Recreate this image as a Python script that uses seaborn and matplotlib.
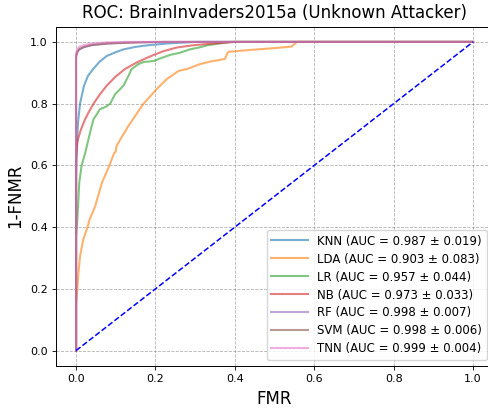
import numpy as np
import pandas as pd
import seaborn as sns
import matplotlib
matplotlib.use('Agg')
import matplotlib.pyplot as plt

# ROC points (FMR, 1-FNMR) per classifier
models = ['KNN', 'LDA', 'LR', 'NB', 'RF', 'SVM', 'TNN']
auc_mean = [0.987, 0.903, 0.957, 0.973, 0.998, 0.998, 0.999]
auc_std = [0.019, 0.083, 0.044, 0.033, 0.007, 0.006, 0.004]

knn_fmr = [0, 0, 0.002, 0.005, 0.01, 0.02, 0.03, 0.043, 0.06, 0.078, 0.1, 0.12, 0.15, 0.18, 0.23, 0.3, 1.0]
knn_tpr = [0, 0.55, 0.66, 0.74, 0.80, 0.858, 0.89, 0.912, 0.937, 0.955, 0.967, 0.976, 0.984, 0.989, 0.995, 1.0, 1.0]

lda_fmr = [0, 0, 0.003, 0.006, 0.01, 0.018, 0.029, 0.034, 0.048, 0.065, 0.084, 0.096, 0.1, 0.102, 0.111,
           0.132, 0.17, 0.203, 0.228, 0.258, 0.279, 0.312, 0.34, 0.363, 0.375, 0.38, 0.384, 0.438, 0.5,
           0.543, 0.556, 1.0]
lda_tpr = [0, 0.15, 0.197, 0.251, 0.305, 0.359, 0.40, 0.424, 0.467, 0.543, 0.60, 0.64, 0.645, 0.663, 0.683,
           0.728, 0.80, 0.847, 0.879, 0.906, 0.912, 0.928, 0.937, 0.942, 0.945, 0.96, 0.968, 0.974, 0.98,
           0.985, 1.0, 1.0]

lr_fmr = [0, 0, 0.003, 0.005, 0.008, 0.014, 0.023, 0.031, 0.037, 0.044, 0.052, 0.06, 0.075, 0.086, 0.098,
          0.111, 0.12, 0.132, 0.14, 0.157, 0.17, 0.195, 0.215, 0.237, 0.262, 0.287, 0.31, 0.33, 0.36, 0.39, 1.0]
lr_tpr = [0, 0.37, 0.42, 0.467, 0.543, 0.60, 0.64, 0.683, 0.715, 0.75, 0.765, 0.782, 0.79, 0.80, 0.83,
          0.847, 0.86, 0.89, 0.912, 0.928, 0.935, 0.938, 0.948, 0.958, 0.965, 0.976, 0.982, 0.989, 0.995, 1.0, 1.0]

nb_fmr = [0, 0, 0.003, 0.006, 0.012, 0.023, 0.033, 0.044, 0.06, 0.077, 0.1, 0.123, 0.155, 0.19, 0.22, 0.254, 0.3, 0.4, 1.0]
nb_tpr = [0, 0.62, 0.672, 0.69, 0.715, 0.75, 0.775, 0.80, 0.83, 0.858, 0.888, 0.912, 0.935, 0.955, 0.97, 0.982, 0.99, 1.0, 1.0]

rf_fmr = [0, 0, 0.003, 0.008, 0.02, 0.04, 0.08, 0.12, 0.2, 1.0]
rf_tpr = [0, 0.95, 0.965, 0.975, 0.983, 0.99, 0.995, 0.998, 1.0, 1.0]

svm_fmr = [0, 0, 0.003, 0.008, 0.02, 0.04, 0.08, 0.15, 0.22, 1.0]
svm_tpr = [0, 0.955, 0.968, 0.977, 0.984, 0.99, 0.995, 0.998, 1.0, 1.0]

tnn_fmr = [0, 0, 0.003, 0.008, 0.02, 0.04, 0.07, 0.12, 1.0]
tnn_tpr = [0, 0.962, 0.975, 0.984, 0.99, 0.995, 0.998, 1.0, 1.0]

curves = [(knn_fmr, knn_tpr), (lda_fmr, lda_tpr), (lr_fmr, lr_tpr), (nb_fmr, nb_tpr),
          (rf_fmr, rf_tpr), (svm_fmr, svm_tpr), (tnn_fmr, tnn_tpr)]

frames = []
for name, m, s, (x, y) in zip(models, auc_mean, auc_std, curves):
    lab = f"{name} (AUC = {m:.3f} \u00b1 {s:.3f})"
    frames.append(pd.DataFrame({'FMR': x, 'TPR': y, 'label': lab}))
df = pd.concat(frames, ignore_index=True)
labels = list(df['label'].unique())

fig = plt.figure(figsize=(4.89, 4.09), dpi=100)
ax = fig.add_axes([56.2 / 489, 43 / 409, 436.7 / 489, 339.5 / 409])

sns.lineplot(data=df, x='FMR', y='TPR', hue='label', hue_order=labels,
             palette=sns.color_palette('tab10', len(labels)),
             estimator=None, sort=False, lw=1.5, alpha=0.6, ax=ax)
ax.plot([0, 1], [0, 1], 'b--', lw=1.1)

ax.set_xlim(-0.05, 1.05)
ax.set_ylim(-0.05, 1.05)
ax.set_xticks(np.arange(0, 1.01, 0.2))
ax.set_yticks(np.arange(0, 1.01, 0.2))
ax.tick_params(labelsize=8, length=2.6, width=0.6)
for sp in ax.spines.values():
    sp.set_linewidth(0.7)
ax.grid(True, linestyle='--', color='gray', alpha=0.6, lw=0.6)
ax.set_xlabel('FMR', fontsize=12)
ax.set_ylabel('1-FNMR', fontsize=12)
ax.set_title('ROC: BrainInvaders2015a (Unknown Attacker)', fontsize=12)

ax.legend(loc='lower right', fontsize=8.5, handlelength=3.1, labelspacing=0.42)

fig.savefig('out.png', dpi=100)
